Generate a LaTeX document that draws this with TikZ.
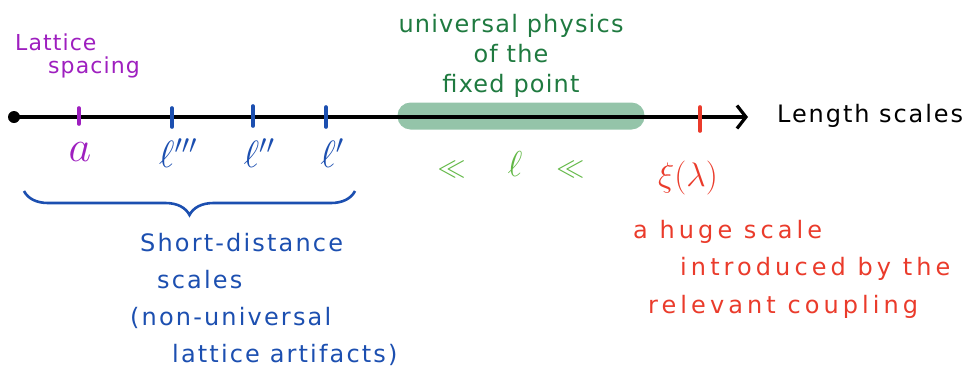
\RequirePackage{fix-cm}
\documentclass[tikz,border=0pt]{standalone}
\usepackage{fontspec}
\setmainfont{DejaVu Sans}
\usetikzlibrary{arrows.meta,decorations.pathreplacing}
\definecolor{lattpurple}{HTML}{9E1FBF}
\definecolor{shortblue}{HTML}{1C4FB0}
\definecolor{fpgreen}{HTML}{1F7A40}
\definecolor{llgreen}{HTML}{62B846}
\definecolor{bandgreen}{HTML}{94C4A9}
\definecolor{relred}{HTML}{EA3B2B}
\tikzset{
  hand/.style={font=\fontsize{24}{30}\selectfont\addfontfeatures{LetterSpace=5}, inner sep=0pt},
  note/.style={hand, align=left, anchor=base west},
  scalelbl/.style={font=\fontsize{38}{38}\selectfont, inner sep=0pt},
  tickmark/.style={line width=3.6pt, line cap=round},
  axis/.style={line width=3.2pt, -{Straight Barb[length=9pt, width=23pt, line width=3.2pt]}},
  band/.style={fill=bandgreen, draw=none, rounded corners=13pt, minimum width=247pt, minimum height=27pt, inner sep=0pt},
  bracket/.style={shortblue, line width=2.6pt, decorate, decoration={brace, mirror, amplitude=24pt}}}
\begin{document}
\begin{tikzpicture}[x=1pt, y=-1pt]
  \useasboundingbox (0,0) rectangle (974,376);
  % the length axis
  \node[band] (fixedpt) at (521,116) {};
  \coordinate (origin) at (14,117);
  \coordinate (axend) at (748,117);
  \draw[axis] (origin) -- (axend);
  \fill (origin) circle[radius=6pt];
  \node[hand, anchor=west, font=\fontsize{24}{30}\selectfont\addfontfeatures{LetterSpace=8}] (lenscale) at (777,116) {Length scales};
  % ticks and their labels
  \draw[tickmark, lattpurple] (79,108) -- (79,124);
  \draw[tickmark, shortblue] (172,108) -- (172,127);
  \draw[tickmark, shortblue] (253,106) -- (253,126);
  \draw[tickmark, shortblue] (326,107) -- (326,127);
  \draw[tickmark, relred] (700,107) -- (700,131);
  \node[scalelbl, lattpurple, font=\fontsize{44}{44}\selectfont] (lbla) at (80,152) {$a$};
  \node[scalelbl, shortblue] (lbl3) at (178,153) {$\ell'''$};
  \node[scalelbl, shortblue] (lbl2) at (259,153) {$\ell''$};
  \node[scalelbl, shortblue] (lbl1) at (332,153) {$\ell'$};
  \node[scalelbl, relred, font=\fontsize{34}{34}\selectfont] (lblxi) at (688,178) {$\xi(\lambda)$};
  \node[scalelbl, llgreen, font=\fontsize{28}{28}\selectfont] (lblell) at (511,165) {$\ll$\hspace{42pt}{\fontsize{36}{36}\selectfont$\ell$}\hspace{34pt}$\ll$};
  % notes
  \node[note, lattpurple, font=\fontsize{22}{23}\selectfont\addfontfeatures{LetterSpace=5}] (lattnote) at (15,73) {Lattice\\\hspace*{33pt}spacing};
  \node[hand, fpgreen, align=center, anchor=base] (fpnote) at (511,92) {universal physics\\of the\\fixed point};
  \draw[bracket] (24,191) coordinate (brl) -- (355,191) coordinate (brr);
  \node[note, shortblue, font=\fontsize{24}{36.7}\selectfont\addfontfeatures{LetterSpace=9}] (shortnote) at (130,362) {\hspace*{10pt}Short-distance\\\hspace*{27pt}scales\\(non-universal\\\hspace*{42pt}lattice artifacts)};
  \node[note, relred, font=\fontsize{24}{37.5}\selectfont\addfontfeatures{LetterSpace=17}] (relnote) at (633,313) {a huge scale\\\hspace*{47pt}introduced by the\\\hspace*{15pt}relevant coupling};
\end{tikzpicture}
\end{document}
